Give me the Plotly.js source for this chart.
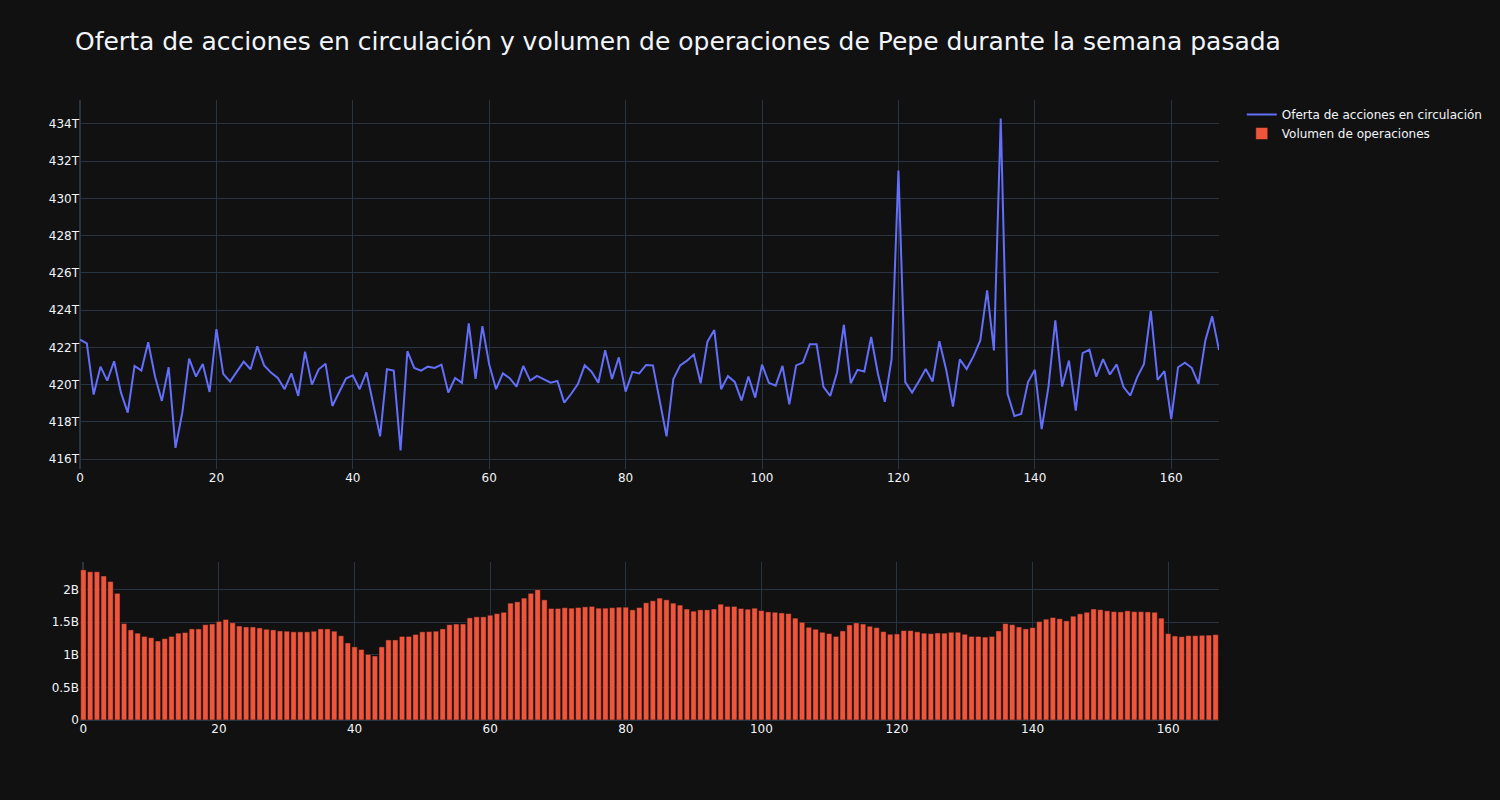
<!DOCTYPE html>
<html>
<head>
<meta charset="utf-8">
<script src="https://cdn.plot.ly/plotly-3.0.1.min.js"></script>
<style>
  html, body { margin: 0; padding: 0; background: #111111; }
  #chart { width: 1500px; height: 800px; }
</style>
</head>
<body>
<div id="chart"></div>
<script>
const CHART = document.getElementById("chart");

// hour index over the last week (168 hours)
const hours = Array.from({length: 168}, (_, i) => i);

// circulating supply, in trillions
const supplyT = [
  422.41, 422.21, 419.46, 420.96, 420.21, 421.25, 419.58, 418.49, 421.00, 420.75,
  422.27, 420.43, 419.12, 420.93, 416.60, 418.49, 421.39, 420.43, 421.10, 419.60,
  422.97, 420.57, 420.16, 420.71, 421.23, 420.82, 422.05, 421.03, 420.64, 420.35,
  419.75, 420.60, 419.39, 421.77, 420.00, 420.82, 421.12, 418.85, 419.58, 420.32,
  420.50, 419.75, 420.66, 418.96, 417.22, 420.82, 420.75, 416.46, 421.79, 420.89,
  420.75, 420.96, 420.89, 421.07, 419.57, 420.35, 420.09, 423.29, 420.30, 423.14,
  421.07, 419.75, 420.60, 420.34, 419.89, 421.00, 420.21, 420.46, 420.28, 420.10,
  420.19, 419.03, 419.49, 420.03, 421.03, 420.69, 420.10, 421.84, 420.30, 421.46,
  419.62, 420.68, 420.60, 421.05, 421.03, 419.14, 417.22, 420.30, 421.03, 421.28,
  421.61, 420.07, 422.30, 422.93, 419.75, 420.45, 420.14, 419.14, 420.43, 419.30,
  421.07, 420.09, 419.94, 421.00, 418.94, 421.03, 421.18, 422.16, 422.16, 419.87,
  419.39, 420.65, 423.21, 420.07, 420.79, 420.70, 422.55, 420.57, 419.07, 421.38,
  431.49, 420.13, 419.57, 420.18, 420.83, 420.16, 422.33, 420.79, 418.82, 421.35,
  420.83, 421.51, 422.37, 425.06, 421.83, 434.29, 419.50, 418.31, 418.42, 420.13,
  420.79, 417.61, 419.89, 423.45, 419.89, 421.29, 418.60, 421.69, 421.87, 420.43,
  421.36, 420.54, 421.08, 419.86, 419.41, 420.39, 421.11, 423.95, 420.25, 420.72,
  418.15, 420.93, 421.17, 420.90, 420.04, 422.37, 423.66, 421.85
];

// trading volume, in billions
const volumeB = [
  2.30, 2.27, 2.27, 2.205, 2.12, 1.94, 1.477, 1.38, 1.33, 1.28,
  1.26, 1.21, 1.246, 1.28, 1.33, 1.34, 1.395, 1.395, 1.46, 1.47,
  1.51, 1.54, 1.49, 1.44, 1.425, 1.425, 1.41, 1.39, 1.38, 1.364,
  1.36, 1.35, 1.35, 1.35, 1.36, 1.395, 1.395, 1.36, 1.29, 1.18,
  1.12, 1.08, 1.005, 0.98, 1.12, 1.226, 1.226, 1.28, 1.28, 1.31,
  1.35, 1.354, 1.36, 1.395, 1.46, 1.47, 1.47, 1.564, 1.58, 1.58,
  1.605, 1.63, 1.65, 1.79, 1.81, 1.867, 1.94, 1.995, 1.84, 1.708,
  1.708, 1.72, 1.713, 1.723, 1.733, 1.74, 1.713, 1.713, 1.72, 1.728,
  1.728, 1.687, 1.723, 1.795, 1.826, 1.867, 1.84, 1.79, 1.76, 1.70,
  1.667, 1.687, 1.687, 1.70, 1.774, 1.74, 1.74, 1.708, 1.697, 1.713,
  1.677, 1.656, 1.65, 1.64, 1.63, 1.56, 1.497, 1.42, 1.39, 1.344,
  1.323, 1.28, 1.364, 1.456, 1.487, 1.47, 1.436, 1.415, 1.354, 1.313,
  1.318, 1.37, 1.37, 1.35, 1.33, 1.323, 1.333, 1.33, 1.344, 1.344,
  1.313, 1.28, 1.28, 1.27, 1.28, 1.364, 1.477, 1.46, 1.425, 1.395,
  1.415, 1.508, 1.544, 1.57, 1.55, 1.518, 1.59, 1.626, 1.65, 1.70,
  1.69, 1.672, 1.66, 1.656, 1.672, 1.66, 1.66, 1.656, 1.65, 1.56,
  1.323, 1.287, 1.277, 1.292, 1.292, 1.297, 1.30, 1.308
];

const supply = supplyT.map((v) => v * 1e12);
const volume = volumeB.map((v) => v * 1e9);

const GRID = "#283442";
const FONT = "DejaVu Sans, Verdana, sans-serif";

function axis(extra) {
    return Object.assign({
        gridcolor: GRID,
        showline: false,
        zerolinecolor: GRID,
        zerolinewidth: 2,
        ticks: "",
        tickfont: {size: 12}
    }, extra);
}

Plotly.newPlot(CHART, [{
        x: hours,
        y: supply,
        name: "Oferta de acciones en circulación",
        mode: "lines",
        type: "scatter",
        line: {color: "#636efa", width: 2},
        xaxis: "x",
        yaxis: "y"
    }, {
        x: hours,
        y: volume,
        name: "Volumen de operaciones",
        type: "bar",
        marker: {color: "#EF553B", line: {color: "rgb(17,17,17)", width: 0.5}},
        xaxis: "x2",
        yaxis: "y2"
    }],
    {
        width: 1500,
        height: 800,
        paper_bgcolor: "rgb(17,17,17)",
        plot_bgcolor: "rgb(17,17,17)",
        font: {family: FONT, color: "#f2f5fa", size: 12},
        title: {text: "Oferta de acciones en circulación y volumen de operaciones de Pepe durante la semana pasada",
                x: 0.05, font: {size: 25}},
        margin: {t: 100, b: 80, l: 80, r: 80},
        xaxis: axis({anchor: "y", domain: [0, 1]}),
        yaxis: axis({anchor: "x", domain: [0.405, 1]}),
        xaxis2: axis({anchor: "y2", domain: [0, 1]}),
        yaxis2: axis({anchor: "x2", domain: [0, 0.255]}),
        legend: {font: {size: 12}},
        showlegend: true
    },
    {displayModeBar: false}
);
</script>
</body>
</html>
